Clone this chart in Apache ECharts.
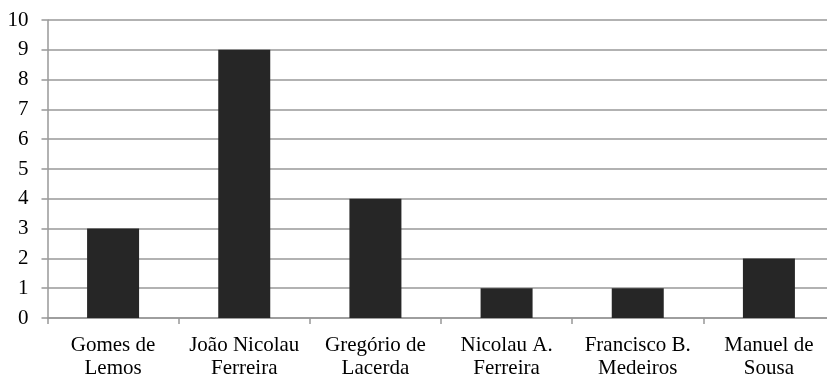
<!DOCTYPE html>
<html>
<head>
<meta charset="utf-8">
<script src="https://cdn.jsdelivr.net/npm/echarts@6/dist/echarts.min.js"></script>
<style>
  html, body { margin: 0; padding: 0; background: #fff; }
  #chart { width: 827px; height: 378px; }
</style>
</head>
<body>
<div id="chart"></div>
<script>
// Names, one per bar
const categories = [
  'Gomes de\nLemos',
  'João Nicolau\nFerreira',
  'Gregório de\nLacerda',
  'Nicolau A.\nFerreira',
  'Francisco B.\nMedeiros',
  'Manuel de\nSousa'
];
// Count for each name
const counts = [3, 9, 4, 1, 1, 2];
// Value axis range
const yMin = 0;
const yMax = 10;
const yStep = 1;

const chart = echarts.init(document.getElementById('chart'), null, { renderer: 'canvas' });
const font = "'Liberation Serif', 'Times New Roman', serif";
const lineColor = '#989898';

chart.setOption({
  animation: false,
  backgroundColor: '#ffffff',
  textStyle: { fontFamily: font },
  grid: {
    left: 47.5, top: 20, right: -7.5, bottom: 60,
    containLabel: false, outerBoundsMode: 'none'
  },
  xAxis: {
    type: 'category',
    data: categories,
    axisLine: { show: true, lineStyle: { color: lineColor, width: 1.5 } },
    axisTick: { show: true, alignWithLabel: false, length: 6, lineStyle: { color: lineColor, width: 1.5 } },
    axisLabel: {
      color: '#000', fontFamily: font, fontSize: 21, lineHeight: 23, margin: 16, interval: 0
    },
    splitLine: { show: false }
  },
  yAxis: {
    type: 'value',
    min: yMin, max: yMax, interval: yStep,
    axisLine: { show: true, lineStyle: { color: lineColor, width: 1.5 } },
    axisTick: { show: true, length: 6, lineStyle: { color: lineColor, width: 1.5 } },
    axisLabel: { color: '#000', fontFamily: font, fontSize: 21, margin: 19 },
    splitLine: { show: true, lineStyle: { color: lineColor, width: 1.5 } }
  },
  series: [{
    type: 'bar',
    data: counts,
    barWidth: 52,
    itemStyle: { color: '#262626' }
  }]
});
</script>
</body>
</html>
